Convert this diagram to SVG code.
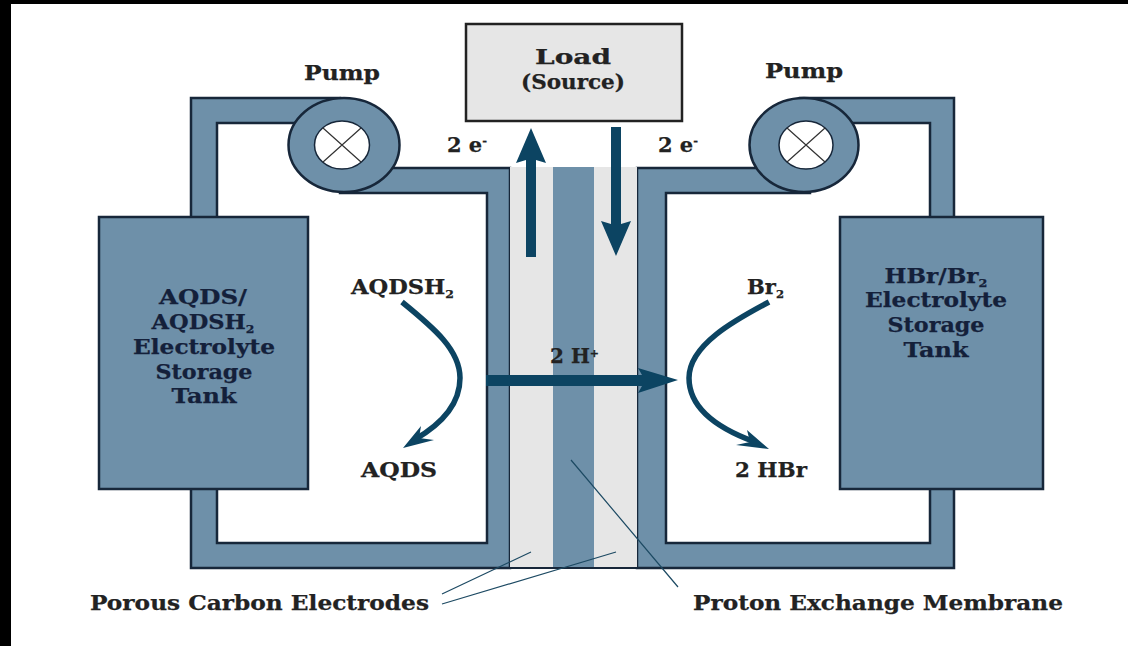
<svg xmlns="http://www.w3.org/2000/svg" width="1128" height="646" viewBox="0 0 1128 646">
<style>
.p{fill:#6e90a9;stroke:#17273a;stroke-width:2.5}
.e{fill:#e6e6e6}
.t{font-family:"DejaVu Serif","Liberation Serif",serif;font-weight:700;font-size:20px;fill:#222;stroke:#222;stroke-width:.25}
.k{fill:#14203a;stroke:#14203a;text-anchor:middle}
.s{font-size:11px}
.a{fill:#0c4462}
.c{fill:none;stroke:#0c4462;stroke-width:5.5}
.l{stroke:#1d4a63;stroke-width:1.2;fill:none}
.x{stroke:#333;stroke-width:1.2}
</style>
<rect width="1128" height="646" fill="#fff"/>
<rect width="1128" height="4" fill="#000"/>
<rect width="11" height="646" fill="#000"/>
<g id="connectors">
<path class="p" d="M191 218V98H340V123H217V218Z"/>
<path class="p" d="M340 168H510V568H191V488H217V543H487V193H340Z"/>
<path class="p" d="M954 218V98H800V123H930V218Z"/>
<path class="p" d="M810 168H637V568H954V488H930V543H666V193H810Z"/>
<rect class="e" x="510" y="167" width="43" height="400"/>
<rect x="553" y="167" width="41" height="400" fill="#6e90a9"/>
<rect class="e" x="594" y="167" width="43" height="400"/>
<path d="M510 568H637" stroke="#17273a" stroke-width="2"/>
</g>
<g id="tank-left"><rect class="p" x="99" y="217" width="209" height="272"/>
<text class="t k" x="203" y="304" textLength="88" lengthAdjust="spacingAndGlyphs">AQDS/</text>
<text class="t k" x="203" y="329" textLength="103" lengthAdjust="spacingAndGlyphs">AQDSH<tspan class="s" dy="4">2</tspan></text>
<text class="t k" x="204" y="354" textLength="142" lengthAdjust="spacingAndGlyphs">Electrolyte</text>
<text class="t k" x="204" y="379" textLength="97" lengthAdjust="spacingAndGlyphs">Storage</text>
<text class="t k" x="204" y="403" textLength="65" lengthAdjust="spacingAndGlyphs">Tank</text></g>
<g id="tank-right"><rect class="p" x="840" y="217" width="203" height="272"/>
<text class="t k" x="936" y="283" textLength="103" lengthAdjust="spacingAndGlyphs">HBr/Br<tspan class="s" dy="4">2</tspan></text>
<text class="t k" x="936" y="307" textLength="142" lengthAdjust="spacingAndGlyphs">Electrolyte</text>
<text class="t k" x="936" y="332" textLength="97" lengthAdjust="spacingAndGlyphs">Storage</text>
<text class="t k" x="936" y="357" textLength="65" lengthAdjust="spacingAndGlyphs">Tank</text></g>
<g id="pump-left"><ellipse class="p" cx="344" cy="145" rx="55.5" ry="47"/><ellipse cx="342" cy="145" rx="27.5" ry="24" fill="#fff" stroke="#17273a" stroke-width="1.5"/>
<path class="x" d="M323 128L361 162M361 128L323 162"/>
<text class="t" x="304" y="80" textLength="76" lengthAdjust="spacingAndGlyphs">Pump</text></g>
<g id="pump-right"><ellipse class="p" cx="804" cy="145" rx="54.5" ry="47"/><ellipse cx="806" cy="145" rx="27" ry="24" fill="#fff" stroke="#17273a" stroke-width="1.5"/>
<path class="x" d="M787 128L825 162M825 128L787 162"/>
<text class="t" x="765" y="78" textLength="78" lengthAdjust="spacingAndGlyphs">Pump</text></g>
<g id="load"><rect x="466" y="24" width="216" height="97" fill="#e6e6e6" stroke="#222" stroke-width="2.5"/>
<text class="t" x="573" y="64" text-anchor="middle" textLength="76" lengthAdjust="spacingAndGlyphs">Load</text>
<text class="t" x="573" y="89" text-anchor="middle" textLength="104" lengthAdjust="spacingAndGlyphs">(Source)</text></g>
<g id="arrows">
<path class="a" d="M526 257V160L516 163L531 128L546 163L536 160V257Z"/>
<path class="a" d="M611 127V224L601 221L616 256L631 221L621 224V127Z"/>
<path class="a" d="M486 375H642L638 368L678 380L638 393L642 386H486Z"/>
<path class="c" d="M402 302C434 328 460 350 460 378C460 408 435 428 414 440"/>
<path class="a" d="M403 448L421 426L419 438L434 440Z"/>
<path class="c" d="M769 302C735 320 689 345 689 378C689 410 722 430 755 442"/>
<path class="a" d="M769 449L747 430L750 442L736 445Z"/>
<path class="l" d="M442 594L531 552M442 604L616 552M571 460L678 587"/>
</g>
<g id="labels">
<text class="t" x="447" y="152" textLength="40" lengthAdjust="spacingAndGlyphs">2 e<tspan class="s" dy="-7">-</tspan></text>
<text class="t" x="658" y="152" textLength="40" lengthAdjust="spacingAndGlyphs">2 e<tspan class="s" dy="-7">-</tspan></text>
<text class="t" x="351" y="294" textLength="103" lengthAdjust="spacingAndGlyphs">AQDSH<tspan class="s" dy="4">2</tspan></text>
<text class="t" x="747" y="294" textLength="37" lengthAdjust="spacingAndGlyphs">Br<tspan class="s" dy="4">2</tspan></text>
<text class="t" x="550" y="363" textLength="49" lengthAdjust="spacingAndGlyphs">2 H<tspan class="s" dy="-6">+</tspan></text>
<text class="t" x="361" y="477" textLength="76" lengthAdjust="spacingAndGlyphs">AQDS</text>
<text class="t" x="735" y="477" textLength="72" lengthAdjust="spacingAndGlyphs">2 HBr</text>
<text class="t" x="90" y="610" textLength="339" lengthAdjust="spacingAndGlyphs">Porous Carbon Electrodes</text>
<text class="t" x="693" y="610" textLength="370" lengthAdjust="spacingAndGlyphs">Proton Exchange Membrane</text>
</g>
</svg>
